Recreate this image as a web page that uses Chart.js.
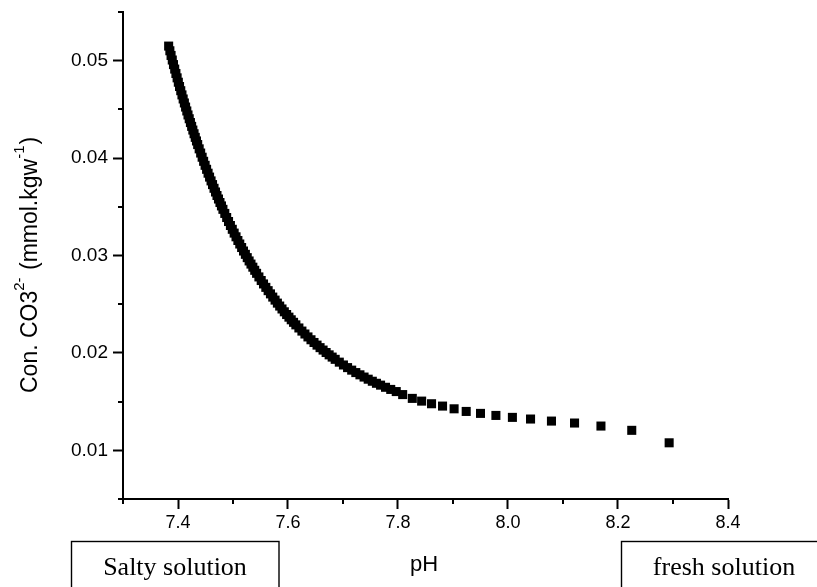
<!DOCTYPE html>
<html>
<head>
<meta charset="utf-8">
<script src="https://cdn.jsdelivr.net/npm/chart.js@4"></script>
<style>
  html, body { margin: 0; padding: 0; background: #fff; }
  #wrap { width: 817px; height: 587px; position: relative; }
</style>
</head>
<body>
<div id="wrap"><canvas id="chartCO3"></canvas></div>
<script>
// pH of each sample (x) and carbonate concentration (y)
const phValues = [
  7.3830, 7.3852, 7.3874, 7.3896, 7.3918, 7.3940, 7.3962, 7.3984, 7.4006, 7.4028,
  7.4050, 7.4072, 7.4094, 7.4116, 7.4138, 7.4160, 7.4182, 7.4204, 7.4226, 7.4248,
  7.4270, 7.4292, 7.4314, 7.4336, 7.4358,
  7.4385, 7.4412, 7.4439, 7.4466, 7.4493, 7.4520, 7.4547, 7.4574, 7.4601, 7.4628,
  7.4655, 7.4682, 7.4709, 7.4736, 7.4763, 7.4790, 7.4817,
  7.4851, 7.4885, 7.4919, 7.4953, 7.4987, 7.5021, 7.5055, 7.5089, 7.5123, 7.5157,
  7.5191, 7.5225, 7.5259, 7.5293, 7.5327, 7.5361, 7.5395, 7.5429,
  7.5471, 7.5513, 7.5555, 7.5597, 7.5639, 7.5681, 7.5723, 7.5765, 7.5807, 7.5849,
  7.5891, 7.5933, 7.5975, 7.6017, 7.6059, 7.6101, 7.6143,
  7.6198, 7.6253, 7.6308, 7.6363, 7.6418, 7.6473, 7.6528, 7.6583, 7.6638, 7.6693,
  7.6748, 7.6803, 7.6858,
  7.6933, 7.7008, 7.7083, 7.7158, 7.7233, 7.7308, 7.7383, 7.7458, 7.7533, 7.7608, 7.7683,
  7.7773, 7.7868, 7.7968,
  7.8085, 7.826, 7.843, 7.861, 7.881, 7.902, 7.924, 7.950, 7.978, 8.008,
  8.041, 8.079, 8.121, 8.169, 8.225, 8.293
];
const co3Values = [
  0.05150, 0.05102, 0.05054, 0.05007, 0.04960, 0.04914, 0.04869, 0.04824, 0.04779, 0.04735,
  0.04692, 0.04649, 0.04607, 0.04566, 0.04524, 0.04484, 0.04443, 0.04404, 0.04365, 0.04326,
  0.04288, 0.04250, 0.04213, 0.04176, 0.04139,
  0.04095, 0.04052, 0.04009, 0.03967, 0.03926, 0.03885, 0.03845, 0.03805, 0.03766, 0.03728,
  0.03690, 0.03652, 0.03616, 0.03580, 0.03544, 0.03509, 0.03474,
  0.03432, 0.03390, 0.03349, 0.03308, 0.03269, 0.03230, 0.03192, 0.03154, 0.03118, 0.03082,
  0.03046, 0.03012, 0.02978, 0.02944, 0.02912, 0.02880, 0.02848, 0.02817,
  0.02780, 0.02743, 0.02708, 0.02673, 0.02639, 0.02606, 0.02573, 0.02542, 0.02511, 0.02481,
  0.02451, 0.02422, 0.02394, 0.02367, 0.02340, 0.02314, 0.02288,
  0.02256, 0.02224, 0.02194, 0.02164, 0.02135, 0.02107, 0.02080, 0.02054, 0.02029, 0.02004,
  0.01980, 0.01957, 0.01934,
  0.01905, 0.01876, 0.01849, 0.01823, 0.01798, 0.01775, 0.01752, 0.01730, 0.01709, 0.01688, 0.01669,
  0.01647, 0.01625, 0.01603,
  0.01572, 0.01533, 0.01505, 0.01478, 0.01454, 0.01426, 0.01399, 0.01379, 0.01358, 0.01338,
  0.01321, 0.01300, 0.01280, 0.01249, 0.01205, 0.01077
];

// axis ticks
const xMajorTicks = [7.4, 7.6, 7.8, 8.0, 8.2, 8.4];
const xMinorTicks = [7.3, 7.5, 7.7, 7.9, 8.1, 8.3];
const yMajorTicks = [0.01, 0.02, 0.03, 0.04, 0.05];
const yMinorTicks = [0.005, 0.015, 0.025, 0.035, 0.045, 0.055];

const xTitle = 'pH';
const boxLeftText = 'Salty solution';
const boxRightText = 'fresh solution';

const sansFont = "'Liberation Sans', Arial, sans-serif";
const serifFont = "'Liberation Serif', 'Times New Roman', serif";

const points = phValues.map((v, i) => ({ x: v, y: co3Values[i] }));

// minor ticks, y title with superscripts, x title and the two labelled boxes
const decorations = {
  id: 'decorations',
  afterDraw(chart) {
    const { ctx, chartArea: a, scales: { x, y } } = chart;
    ctx.save();
    ctx.strokeStyle = '#000';
    ctx.lineWidth = 2;
    ctx.beginPath();
    xMinorTicks.forEach(v => {
      const px = Math.round(x.getPixelForValue(v));
      ctx.moveTo(px, a.bottom);
      ctx.lineTo(px, a.bottom + 5);
    });
    yMinorTicks.forEach(v => {
      const py = Math.round(y.getPixelForValue(v));
      ctx.moveTo(a.left - 5, py);
      ctx.lineTo(a.left, py);
    });
    ctx.stroke();

    // y axis title, rotated, with superscripts
    ctx.fillStyle = '#000';
    ctx.textBaseline = 'alphabetic';
    ctx.textAlign = 'left';
    ctx.translate(37, 393);
    ctx.rotate(-Math.PI / 2);
    const parts = [
      ['Con. CO3', false], ['2-', true], [' (mmol.kgw', false], ['-1', true], [')', false]
    ];
    let pos = 0;
    parts.forEach(([txt, sup]) => {
      ctx.font = sup ? '15px ' + sansFont : '23px ' + sansFont;
      ctx.fillText(txt, pos, sup ? -13 : 0);
      pos += ctx.measureText(txt).width + (sup ? 1 : 0);
    });
    ctx.setTransform(1, 0, 0, 1, 0, 0);

    // x axis title
    ctx.font = '22px ' + sansFont;
    ctx.textAlign = 'center';
    ctx.fillText(xTitle, 424, 571);

    // labelled boxes
    ctx.lineWidth = 1.4;
    ctx.strokeRect(71.5, 541.5, 207.5, 60);
    ctx.strokeRect(621.5, 541.5, 210, 60);
    ctx.font = '26px ' + serifFont;
    ctx.fillText(boxLeftText, 175, 575);
    ctx.fillText(boxRightText, 724, 575);
    ctx.restore();
  }
};

const ctx = document.getElementById('chartCO3').getContext('2d');
const co3Chart = new Chart(ctx, {
  type: 'scatter',
  data: {
    datasets: [{
      data: points,
      pointStyle: 'rect',
      pointRadius: 6.4,
      pointHoverRadius: 6.4,
      backgroundColor: '#000',
      borderColor: '#000',
      borderWidth: 0,
      showLine: false
    }]
  },
  plugins: [decorations],
  options: {
    responsive: true,
    maintainAspectRatio: false,
    animation: false,
    layout: { padding: { left: 0, top: 12, right: 89, bottom: 0 } },
    plugins: {
      legend: { display: false },
      tooltip: { enabled: false }
    },
    scales: {
      x: {
        type: 'linear',
        min: 7.3,
        max: 8.4,
        afterBuildTicks: s => { s.ticks = xMajorTicks.map(v => ({ value: v })); },
        afterFit: s => { s.height = 88; s.paddingLeft = 0; s.paddingRight = 0; },
        border: { display: true, color: '#000', width: 2 },
        grid: { display: true, drawOnChartArea: false, drawTicks: true, tickLength: 10, tickWidth: 2, tickColor: '#000' },
        ticks: {
          color: '#000',
          padding: 3,
          maxRotation: 0,
          font: { family: sansFont, size: 18 },
          callback: v => v.toFixed(1)
        }
      },
      y: {
        type: 'linear',
        min: 0.005,
        max: 0.055,
        afterBuildTicks: s => { s.ticks = yMajorTicks.map(v => ({ value: v })); },
        afterFit: s => { s.width = 123; s.paddingTop = 0; s.paddingBottom = 0; },
        border: { display: true, color: '#000', width: 2 },
        grid: { display: true, drawOnChartArea: false, drawTicks: true, tickLength: 10, tickWidth: 2, tickColor: '#000' },
        ticks: {
          color: '#000',
          padding: 5,
          font: { family: sansFont, size: 19 },
          callback: v => v.toFixed(2)
        }
      }
    }
  }
});
</script>
</body>
</html>
